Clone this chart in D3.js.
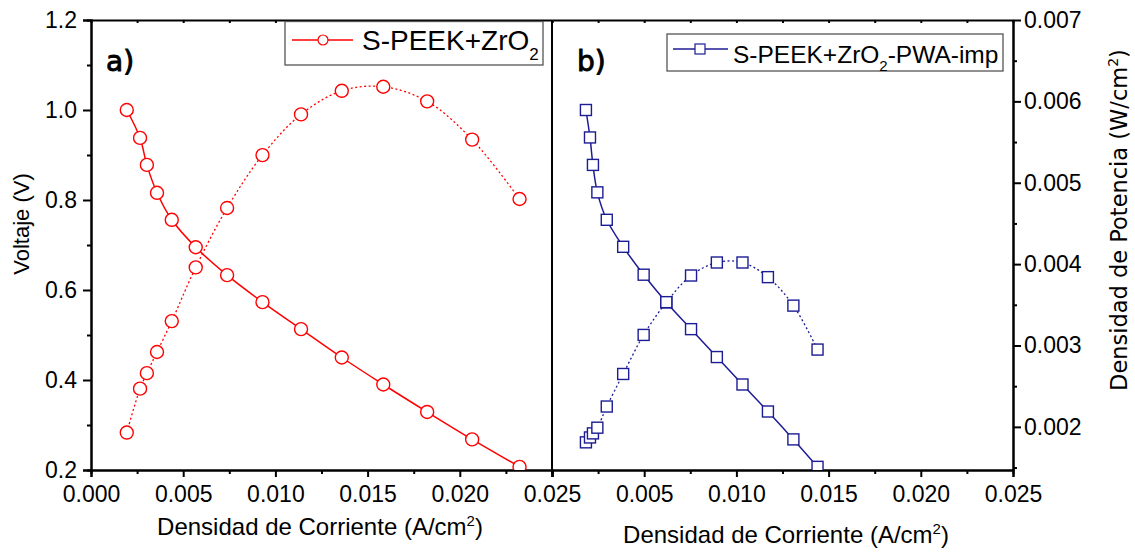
<!DOCTYPE html>
<html><head><meta charset="utf-8">
<script src="https://cdn.jsdelivr.net/npm/d3@7"></script>
<style>
html,body{margin:0;padding:0;background:#fff;}
svg{display:block;}
</style></head>
<body>
<svg id="chart" width="1135" height="554"></svg>
<script>
// ---------------- DATA ----------------
const currentA = [0.00194,0.00266,0.00303,0.00358,0.00438,0.00568,0.00738,0.0093,0.01139,0.0136,0.01585,0.01823,0.02067,0.02324];
const voltageA = [1.000,0.938,0.878,0.816,0.756,0.695,0.633,0.573,0.513,0.450,0.390,0.329,0.268,0.207];
const powerA   = [0.00193,0.00247,0.00266,0.00292,0.00330,0.00396,0.00469,0.00534,0.00584,0.00613,0.00618,0.00600,0.00553,0.00480];

const currentB = [0.00184,0.00206,0.00222,0.00246,0.00297,0.00386,0.00497,0.0062,0.00754,0.00894,0.01033,0.01171,0.01309,0.0144];
const voltageB = [1.000,0.939,0.878,0.817,0.756,0.696,0.634,0.573,0.513,0.451,0.390,0.330,0.268,0.207];
const powerB   = [0.00181,0.00187,0.00192,0.00199,0.00225,0.00265,0.00313,0.00353,0.00386,0.00402,0.00402,0.00384,0.00349,0.00295];

const seriesNameA = "S-PEEK+ZrO";
const seriesNameB = "S-PEEK+ZrO";
const xTickValues = [0,0.005,0.010,0.015,0.020,0.025];
const xMinorValues = [0.0025,0.0075,0.0125,0.0175,0.0225];
const vTickValues = [0.2,0.4,0.6,0.8,1.0,1.2];
const vMinorValues = [0.3,0.5,0.7,0.9,1.1];
const pTickValues = [0.002,0.003,0.004,0.005,0.006,0.007];
const pMinorValues = [0.0015,0.0025,0.0035,0.0045,0.0055,0.0065];

// ---------------- LAYOUT ----------------
const svg = d3.select("#chart");
const L = 91, M = 552, R = 1013, T = 20, B = 470;
const RED = "#ff0000", BLUE = "#1c1c94";
const sans = "'Liberation Sans', Arial, sans-serif";
const geo = "'DejaVu Sans', sans-serif";

const xA = d3.scaleLinear().domain([0,0.025]).range([L,M]);
const xB = d3.scaleLinear().domain([0,0.025]).range([M,R]);
const yV = d3.scaleLinear().domain([0.2,1.2]).range([B,T]);
const yP = d3.scaleLinear().domain([0.00147,0.007]).range([B,T]);

const defs = svg.append("defs");
defs.append("clipPath").attr("id","clipA").append("rect").attr("x",L).attr("y",T).attr("width",M-L).attr("height",B-T);
defs.append("clipPath").attr("id","clipB").append("rect").attr("x",M).attr("y",T).attr("width",R-M).attr("height",B-T);

function styleAxis(g){
  g.selectAll("path.domain").attr("stroke","#000").attr("stroke-width",2);
  g.selectAll(".tick line").attr("stroke","#000").attr("stroke-width",2);
  g.selectAll(".tick text").attr("fill","#000").style("font-family",sans).style("font-size","23px");
}

// bottom axes
const fmt3 = d3.format(".3f");
svg.append("g").attr("transform",`translate(0,${B})`)
  .call(d3.axisBottom(xA).tickValues(xTickValues).tickFormat(fmt3).tickSize(7).tickPadding(9))
  .call(styleAxis);
svg.append("g").attr("transform",`translate(0,${B})`)
  .call(d3.axisBottom(xA).tickValues(xMinorValues).tickFormat("").tickSize(4))
  .call(styleAxis);
svg.append("g").attr("transform",`translate(0,${B})`)
  .call(d3.axisBottom(xB).tickValues(xTickValues).tickFormat((d,i)=> i===0 ? "" : fmt3(d)).tickSize(7).tickPadding(9))
  .call(styleAxis);
svg.append("g").attr("transform",`translate(0,${B})`)
  .call(d3.axisBottom(xB).tickValues(xMinorValues).tickFormat("").tickSize(4))
  .call(styleAxis);

// top axes (frame with small inward ticks)
[xA,xB].forEach(sc=>{
  svg.append("g").attr("transform",`translate(0,${T})`)
    .call(d3.axisTop(sc).tickValues(xTickValues.concat(xMinorValues)).tickFormat("").tickSize(-3).tickSizeOuter(0))
    .call(styleAxis);
});

// left axis
svg.append("g").attr("transform",`translate(${L},0)`)
  .call(d3.axisLeft(yV).tickValues(vTickValues).tickFormat(d3.format(".1f")).tickSize(8).tickPadding(6))
  .call(styleAxis);
svg.append("g").attr("transform",`translate(${L},0)`)
  .call(d3.axisLeft(yV).tickValues(vMinorValues).tickFormat("").tickSize(4))
  .call(styleAxis);

// divider
svg.append("line").attr("x1",M).attr("x2",M).attr("y1",T).attr("y2",B)
  .attr("stroke","#000").attr("stroke-width",2);

// right axis
svg.append("g").attr("transform",`translate(${R},0)`)
  .call(d3.axisRight(yP).tickValues(pTickValues).tickFormat(fmt3).tickSize(8).tickPadding(3).tickSizeOuter(0))
  .call(styleAxis);
svg.append("g").attr("transform",`translate(${R},0)`)
  .call(d3.axisRight(yP).tickValues(pMinorValues).tickFormat("").tickSize(4).tickSizeOuter(0))
  .call(styleAxis);

// ---------------- SERIES ----------------
function drawPanel(xs, cur, volt, pow, color, clip, marker){
  const g = svg.append("g").attr("clip-path",`url(#${clip})`);
  const vPts = cur.map((c,i)=>[xs(c), yV(volt[i])]);
  const pPts = cur.map((c,i)=>[xs(c), yP(pow[i])]);
  const line = d3.line().curve(d3.curveCatmullRom.alpha(0.5));
  g.append("path").attr("d",line(pPts)).attr("fill","none").attr("stroke",color)
    .attr("stroke-width",1.3).attr("stroke-dasharray","2,2.5");
  g.append("path").attr("d",line(vPts)).attr("fill","none").attr("stroke",color)
    .attr("stroke-width",1.5);
  [pPts, vPts].forEach(pts=>{
    pts.forEach(p=>{
      if(marker==="circle"){
        g.append("circle").attr("cx",p[0]).attr("cy",p[1]).attr("r",6.5)
          .attr("fill","#fff").attr("stroke",color).attr("stroke-width",1.4);
      } else {
        g.append("rect").attr("x",p[0]-5.5).attr("y",p[1]-5.5).attr("width",11).attr("height",11)
          .attr("fill","#fff").attr("stroke",color).attr("stroke-width",1.4);
      }
    });
  });
}
drawPanel(xA, currentA, voltageA, powerA, RED, "clipA", "circle");
drawPanel(xB, currentB, voltageB, powerB, BLUE, "clipB", "square");

// ---------------- LEGENDS ----------------
// a
svg.append("rect").attr("x",285).attr("y",21.5).attr("width",258).attr("height",43.5)
  .attr("fill","#fff").attr("stroke","#555").attr("stroke-width",1.3);
svg.append("line").attr("x1",292).attr("x2",353).attr("y1",40).attr("y2",40).attr("stroke",RED).attr("stroke-width",1.3);
svg.append("circle").attr("cx",323).attr("cy",40).attr("r",5).attr("fill","#fff").attr("stroke",RED).attr("stroke-width",1.2);
const ta = svg.append("text").attr("x",362).attr("y",50).attr("fill","#000")
  .style("font-family",sans).style("font-size","28px");
ta.append("tspan").text(seriesNameA);
ta.append("tspan").attr("dy",10).style("font-size","17px").text("2");

// b
svg.append("rect").attr("x",667).attr("y",34).attr("width",336).attr("height",37)
  .attr("fill","#fff").attr("stroke","#555").attr("stroke-width",1.3);
svg.append("line").attr("x1",673).attr("x2",728).attr("y1",49).attr("y2",49).attr("stroke",BLUE).attr("stroke-width",1.3);
svg.append("rect").attr("x",695).attr("y",44).attr("width",10).attr("height",10).attr("fill","#fff").attr("stroke",BLUE).attr("stroke-width",1.2);
const tb = svg.append("text").attr("x",733).attr("y",63).attr("fill","#000")
  .style("font-family",sans).style("font-size","24.5px");
tb.append("tspan").text(seriesNameB);
tb.append("tspan").attr("dy",8).style("font-size","15px").text("2");
tb.append("tspan").attr("dy",-8).text("-PWA-imp");

// panel labels
svg.append("text").attr("x",106).attr("y",71).style("font-family",geo).style("font-size","28px")
  .attr("stroke","#000").attr("stroke-width",0.9).text("a)");
svg.append("text").attr("x",577).attr("y",71).style("font-family",geo).style("font-size","28px")
  .attr("stroke","#000").attr("stroke-width",0.9).text("b)");

// ---------------- AXIS TITLES ----------------
function xTitle(cx, y){
  const t = svg.append("text").attr("x",cx).attr("y",y).attr("text-anchor","middle")
    .style("font-family",sans).style("font-size","24px").attr("fill","#000");
  t.append("tspan").text("Densidad de Corriente (A/cm");
  t.append("tspan").attr("dy",-9).style("font-size","15px").text("2");
  t.append("tspan").attr("dy",9).text(")");
}
xTitle(320, 535);
xTitle(786, 543);

svg.append("text").attr("transform","translate(29,224) rotate(-90)").attr("text-anchor","middle")
  .style("font-family",sans).style("font-size","22px").attr("fill","#000").text("Voltaje (V)");

const tp = svg.append("text").attr("transform","translate(1127,220) rotate(-90)").attr("text-anchor","middle")
  .style("font-family",geo).style("font-size","22.5px").attr("fill","#000");
tp.append("tspan").text("Densidad de Potencia (W/cm");
tp.append("tspan").attr("dy",-9).style("font-size","14px").text("2");
tp.append("tspan").attr("dy",9).text(")");
</script>
</body></html>
